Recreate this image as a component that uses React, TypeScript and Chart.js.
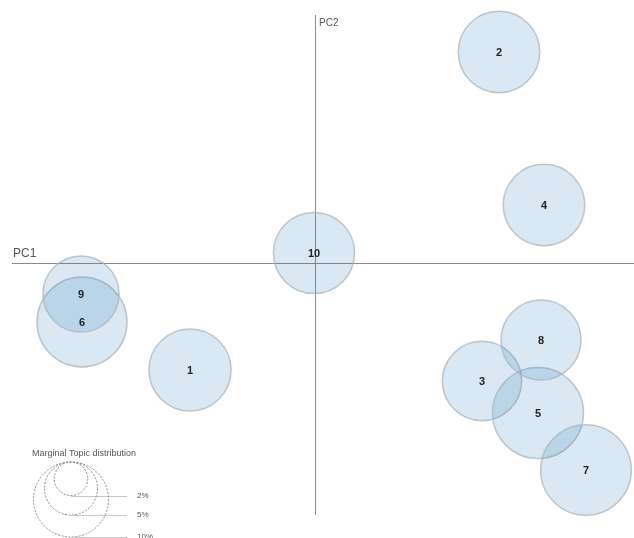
import React, { useEffect, useRef } from "react";
import { Chart, registerables } from "chart.js";

Chart.register(...registerables);

// ---- data ----
const topics = ["1", "2", "3", "4", "5", "6", "7", "8", "9", "10"];
const pc1 = [-0.125, 0.184, 0.167, 0.229, 0.223, -0.233, 0.271, 0.226, -0.234, -0.001];
const pc2 = [-0.107, 0.211, -0.118, 0.058, -0.15, -0.059, -0.207, -0.077, -0.031, 0.01];
const marginalPct = [12.0, 11.8, 11.2, 11.8, 14.7, 14.4, 14.6, 11.4, 10.3, 11.7];
const legendPct = [2, 5, 10];
const legendLabels = ["2%", "5%", "10%"];
const axisLabels = ["PC1", "PC2"];
const legendTitle = "Marginal Topic distribution";

const X_RANGE = [-0.303, 0.319];
const Y_RANGE = [-0.252, 0.248];
const RADIUS_PER_SQRT_PCT = 11.86;
const radiusFor = (p: number) => RADIUS_PER_SQRT_PCT * Math.sqrt(p);

const FONT = "'Liberation Sans', Arial, Helvetica, sans-serif";

const axesPlugin = {
  id: "pcaAxes",
  beforeDatasetsDraw(chart: any) {
    const { ctx, chartArea, scales } = chart;
    const x0 = scales.x.getPixelForValue(0);
    const y0 = scales.y.getPixelForValue(0);
    ctx.save();
    ctx.strokeStyle = "#8a8a8a";
    ctx.lineWidth = 1;
    ctx.beginPath();
    ctx.moveTo(chartArea.left, Math.round(y0) + 0.5);
    ctx.lineTo(chartArea.right, Math.round(y0) + 0.5);
    ctx.moveTo(Math.round(x0) + 0.5, chartArea.top);
    ctx.lineTo(Math.round(x0) + 0.5, chartArea.bottom);
    ctx.stroke();
    ctx.fillStyle = "#555";
    ctx.font = `12px ${FONT}`;
    ctx.textAlign = "left";
    ctx.textBaseline = "bottom";
    ctx.fillText(axisLabels[0], chartArea.left + 1, y0 - 3);
    ctx.font = `10px ${FONT}`;
    ctx.textBaseline = "top";
    ctx.fillText(axisLabels[1], x0 + 4, chartArea.top + 3);
    ctx.restore();
  },
};

const labelsPlugin = {
  id: "topicLabels",
  afterDatasetsDraw(chart: any) {
    const { ctx } = chart;
    const meta = chart.getDatasetMeta(0);
    ctx.save();
    ctx.fillStyle = "#222";
    ctx.font = `bold 11px ${FONT}`;
    ctx.textAlign = "center";
    ctx.textBaseline = "middle";
    meta.data.forEach((el: any, i: number) => {
      ctx.fillText(topics[i], el.x, el.y + 1);
    });
    ctx.restore();
  },
};

const sizeLegendPlugin = {
  id: "sizeLegend",
  afterDraw(chart: any) {
    const { ctx } = chart;
    const cx = 71;
    const top = 462;
    ctx.save();
    ctx.fillStyle = "#555";
    ctx.font = `9px ${FONT}`;
    ctx.textAlign = "left";
    ctx.textBaseline = "middle";
    ctx.fillText(legendTitle, 32, 454);
    legendPct.forEach((p, i) => {
      const r = radiusFor(p);
      ctx.strokeStyle = "#888";
      ctx.lineWidth = 1;
      ctx.setLineDash([2, 1.5]);
      ctx.beginPath();
      ctx.arc(cx, top + r, r, 0, Math.PI * 2);
      ctx.stroke();
      ctx.setLineDash([]);
      const by = top + 2 * r;
      ctx.strokeStyle = "#c8c8c8";
      ctx.beginPath();
      ctx.moveTo(cx, Math.round(by) + 0.5);
      ctx.lineTo(127, Math.round(by) + 0.5);
      ctx.stroke();
      ctx.fillStyle = "#555";
      ctx.font = `8px ${FONT}`;
      ctx.fillText(legendLabels[i], 137, by);
    });
    ctx.restore();
  },
};

export default function App() {
  const ref = useRef<HTMLCanvasElement | null>(null);
  useEffect(() => {
    if (!ref.current) return;
    const data = topics.map((_, i) => ({ x: pc1[i], y: pc2[i], r: radiusFor(marginalPct[i]) }));
    const chart = new Chart(ref.current, {
      type: "bubble",
      data: {
        labels: topics,
        datasets: [
          {
            label: "Topics",
            data,
            backgroundColor: "rgba(31,119,180,0.17)",
            borderColor: "rgba(170,180,190,0.75)",
            borderWidth: 1.5,
            hoverBackgroundColor: "rgba(31,119,180,0.17)",
            clip: false as any,
          },
        ],
      },
      options: {
        responsive: false,
        animation: false,
        layout: { autoPadding: false, padding: { left: 12, top: 15, right: 0, bottom: 23 } },
        plugins: { legend: { display: false }, tooltip: { enabled: false } },
        scales: {
          x: { type: "linear", display: false, min: X_RANGE[0], max: X_RANGE[1] },
          y: { type: "linear", display: false, min: Y_RANGE[0], max: Y_RANGE[1] },
        },
      },
      plugins: [axesPlugin, labelsPlugin, sizeLegendPlugin],
    });
    return () => chart.destroy();
  }, []);
  return (
    <div style={{ position: "fixed", left: 0, top: 0, width: 634, height: 538, background: "#fff" }}>
      <canvas ref={ref} width={634} height={538} style={{ display: "block" }} />
    </div>
  );
}
